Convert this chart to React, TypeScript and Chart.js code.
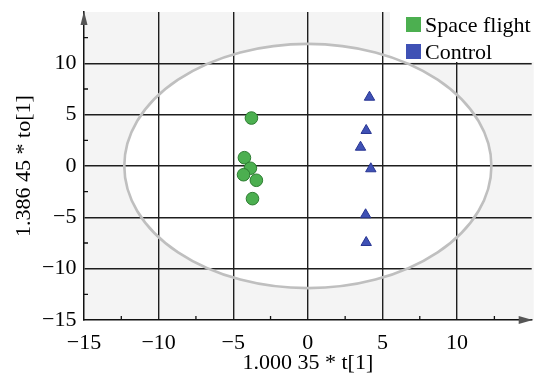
import { useEffect, useRef } from "react";
import { Chart, registerables } from "chart.js";

Chart.register(...registerables);

// OPLS-DA score plot: predictive component t[1] vs orthogonal component to[1]
const seriesLabels = ["Space flight", "Control"];

const spaceFlightT = [-3.78, -4.25, -3.85, -4.31, -3.45, -3.71];
const spaceFlightTo = [4.67, 0.81, -0.22, -0.85, -1.39, -3.18];

const controlT = [4.13, 3.91, 3.53, 4.22, 3.87, 3.91];
const controlTo = [6.7, 3.46, 1.83, -0.27, -4.75, -7.45];

// Hotelling's T2 (95%) ellipse semi-axes, in score units
const ellipseRadiusT = 12.3;
const ellipseRadiusTo = 11.9;

const axisMin = -15;
const axisMax = 15;
const majorStep = 5;
const minorTickValues = [-12.5, -7.5, -2.5, 2.5, 7.5, 12.5];

const xTitle = "1.000 35 * t[1]";
const yTitle = "1.386 45 * to[1]";

const FONT = "'Liberation Serif', 'Times New Roman', serif";
const GREEN = "#4caf50";
const GREEN_EDGE = "#2e7d32";
const BLUE = "#3f51b5";
const BLUE_EDGE = "#283593";

const toPoints = (xs: number[], ys: number[]) => xs.map((x, i) => ({ x, y: ys[i] }));

const tickText = (v: number | string) => {
  const n = Number(v);
  if (n === axisMax) return "";
  return n < 0 ? "\u2212" + Math.abs(n) : String(n);
};

const ellipseGeometry = (chart: any) => {
  const xs = chart.scales.x;
  const ys = chart.scales.y;
  const cx = xs.getPixelForValue(0);
  const cy = ys.getPixelForValue(0);
  return {
    cx,
    cy,
    rx: xs.getPixelForValue(ellipseRadiusT) - cx,
    ry: cy - ys.getPixelForValue(ellipseRadiusTo),
  };
};

const plotDecor = {
  id: "plotDecor",
  beforeDraw(chart: any) {
    const { ctx, chartArea: a } = chart;
    ctx.save();
    // grey field
    ctx.fillStyle = "#f4f4f4";
    ctx.fillRect(a.left, a.top, a.right - a.left + 2, a.bottom - a.top);
    // white interior of the confidence ellipse
    const e = ellipseGeometry(chart);
    ctx.beginPath();
    ctx.ellipse(e.cx, e.cy, e.rx, e.ry, 0, 0, Math.PI * 2);
    ctx.fillStyle = "#ffffff";
    ctx.fill();
    ctx.restore();
  },
  beforeDatasetsDraw(chart: any) {
    const { ctx, chartArea: a, scales } = chart;
    const xs = scales.x;
    const ys = scales.y;
    ctx.save();
    // legend panel hides the grid beneath it
    ctx.fillStyle = "#ffffff";
    ctx.fillRect(390, a.top, chart.width - 390, 50);

    // ellipse outline
    const e = ellipseGeometry(chart);
    ctx.beginPath();
    ctx.ellipse(e.cx, e.cy, e.rx, e.ry, 0, 0, Math.PI * 2);
    ctx.strokeStyle = "#bfbfbf";
    ctx.lineWidth = 2.6;
    ctx.stroke();

    // inward minor ticks
    ctx.strokeStyle = "#111";
    ctx.lineWidth = 1.3;
    ctx.beginPath();
    for (const v of minorTickValues) {
      const px = xs.getPixelForValue(v);
      ctx.moveTo(px, a.bottom);
      ctx.lineTo(px, a.bottom - 4);
      const py = ys.getPixelForValue(v);
      ctx.moveTo(a.left, py);
      ctx.lineTo(a.left + 4, py);
    }
    ctx.stroke();

    // arrowheads on both axes
    ctx.fillStyle = "#555";
    ctx.beginPath();
    ctx.moveTo(a.right + 1, a.bottom);
    ctx.lineTo(a.right - 13, a.bottom - 4);
    ctx.lineTo(a.right - 13, a.bottom + 4);
    ctx.closePath();
    ctx.fill();
    ctx.beginPath();
    ctx.moveTo(a.left, a.top - 1);
    ctx.lineTo(a.left - 3.5, a.top + 13);
    ctx.lineTo(a.left + 3.5, a.top + 13);
    ctx.closePath();
    ctx.fill();
    ctx.restore();
  },
  afterDraw(chart: any) {
    const { ctx } = chart;
    ctx.save();
    ctx.font = `22px ${FONT}`;
    ctx.textBaseline = "alphabetic";
    ctx.textAlign = "left";
    chart.data.datasets.forEach((ds: any, i: number) => {
      const top = 17 + i * 27;
      ctx.fillStyle = ds.legendColor;
      ctx.fillRect(406, top, 15, 15);
      ctx.fillStyle = "#000";
      ctx.fillText(ds.label, 425, top + 15);
    });
    ctx.restore();
  },
};

export default function App() {
  const canvasRef = useRef<HTMLCanvasElement>(null);

  useEffect(() => {
    const canvas = canvasRef.current;
    if (!canvas) return;

    const gridColor = (c: any) => {
      const v = c.tick?.value;
      return v === axisMin || v === axisMax ? "rgba(0,0,0,0)" : "#1e1e1e";
    };

    const chart = new Chart(canvas, {
      type: "scatter",
      data: {
        datasets: [
          {
            label: seriesLabels[0],
            data: toPoints(spaceFlightT, spaceFlightTo),
            pointStyle: "circle",
            pointRadius: 6.3,
            pointBackgroundColor: GREEN,
            pointBorderColor: GREEN_EDGE,
            pointBorderWidth: 1,
            legendColor: GREEN,
          } as any,
          {
            label: seriesLabels[1],
            data: toPoints(controlT, controlTo),
            pointStyle: "triangle",
            pointRadius: 6,
            pointBackgroundColor: BLUE,
            pointBorderColor: BLUE_EDGE,
            pointBorderWidth: 1,
            legendColor: BLUE,
          } as any,
        ],
      },
      options: {
        responsive: false,
        animation: false,
        devicePixelRatio: 1,
        layout: { padding: { top: 12, right: 5, left: 0, bottom: 0 } },
        plugins: {
          legend: { display: false },
          tooltip: { enabled: false },
        },
        scales: {
          x: {
            type: "linear",
            min: axisMin,
            max: axisMax,
            afterFit: (s: any) => {
              s.height = 63;
              s.paddingLeft = 0;
              s.paddingRight = 0;
            },
            ticks: {
              stepSize: majorStep,
              autoSkip: false,
              maxRotation: 0,
              padding: 10.5,
              color: "#000",
              font: { family: FONT, size: 22 },
              callback: (v: any) => tickText(v),
            },
            grid: { drawTicks: false, color: gridColor, lineWidth: 1.4 },
            border: { display: true, color: "#111", width: 1.5 },
            title: {
              display: true,
              text: xTitle,
              color: "#000",
              font: { family: FONT, size: 22 },
              padding: { top: 0, bottom: 6.8 },
            },
          },
          y: {
            type: "linear",
            min: axisMin,
            max: axisMax,
            afterFit: (s: any) => {
              s.width = 84;
              s.paddingTop = 0;
              s.paddingBottom = 0;
            },
            ticks: {
              stepSize: majorStep,
              autoSkip: false,
              padding: 7.5,
              color: "#000",
              font: { family: FONT, size: 22 },
              callback: (v: any) => tickText(v),
            },
            grid: { drawTicks: false, color: gridColor, lineWidth: 1.4 },
            border: { display: true, color: "#111", width: 1.5 },
            title: {
              display: true,
              text: yTitle,
              color: "#000",
              font: { family: FONT, size: 22 },
              padding: { top: 10.8, bottom: 0 },
            },
          },
        },
      },
      plugins: [plotDecor],
    });

    return () => chart.destroy();
  }, []);

  return (
    <div
      style={{
        position: "fixed",
        left: 0,
        top: 0,
        width: 539,
        height: 383,
        background: "#ffffff",
      }}
    >
      <canvas ref={canvasRef} width={539} height={383} style={{ display: "block" }} />
    </div>
  );
}
